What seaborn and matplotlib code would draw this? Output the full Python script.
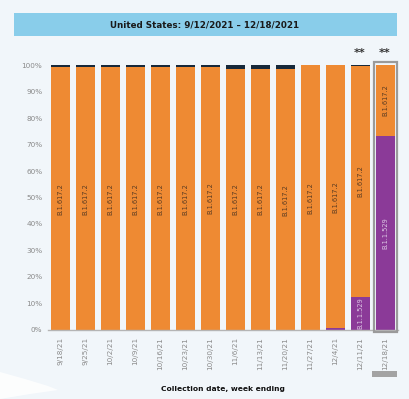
import numpy as np
import pandas as pd
import matplotlib
matplotlib.use('Agg')
import matplotlib.pyplot as plt
import seaborn as sns
from matplotlib.patches import Rectangle, Polygon

# weekly lineage share (%)
weeks = ['9/18/21', '9/25/21', '10/2/21', '10/9/21', '10/16/21', '10/23/21',
         '10/30/21', '11/6/21', '11/13/21', '11/20/21', '11/27/21', '12/4/21',
         '12/11/21', '12/18/21']
omicron = [0, 0, 0, 0, 0, 0, 0, 0, 0, 0, 0, 0.6, 12.6, 73.2]
other = [0.9, 0.8, 0.8, 0.8, 0.8, 0.8, 0.7, 1.4, 1.4, 1.6, 0.1, 0.1, 0.3, 0.0]
delta = [100 - o - x for o, x in zip(omicron, other)]

delta_label = 'B.1.617.2'
omicron_label = 'B.1.1.529'

BG = '#f1f6fa'
ORANGE = '#ee8a33'
PURPLE = '#8b3a98'
NAVY = '#17293a'

df = pd.DataFrame({'week': weeks, 'omicron': omicron, 'delta': delta, 'other': other})
df['d_top'] = df['omicron'] + df['delta']
df['total'] = df['d_top'] + df['other']

sns.set_style('white')
plt.rcParams['font.family'] = ['DejaVu Sans']

fig = plt.figure(figsize=(4.09, 3.99), dpi=100, facecolor=BG)

# decorative swoosh bottom-left
pts = [(0, 372), (25, 379), (48, 386), (58, 390), (30, 394), (0, 399)]
fig.patches.append(Polygon([(x / 409, 1 - y / 399) for x, y in pts], closed=True,
                           transform=fig.transFigure, facecolor='white', edgecolor='none',
                           alpha=0.8, zorder=0))

ax = fig.add_axes([0.117, 0.173, 0.855, 0.664])
ax.set_facecolor(BG)

# stacked bars: draw cumulative totals largest first
for col, c in [('total', NAVY), ('d_top', ORANGE), ('omicron', PURPLE)]:
    sns.barplot(data=df, x='week', y=col, color=c, width=0.76, saturation=1,
                linewidth=0, ax=ax)

for i in range(len(weeks)):
    if delta[i] > 5:
        ax.text(i, omicron[i] + delta[i] / 2, delta_label, rotation=90, ha='center', va='center',
                fontsize=4.8, color='#5a3b22')
    if omicron[i] > 5:
        ax.text(i, omicron[i] / 2, omicron_label, rotation=90, ha='center', va='center',
                fontsize=4.8, color='#dcc6e4')

# highlight last week
n = len(weeks) - 1
ax.add_patch(Rectangle((n - 0.46, -0.8), 0.92, 101.8, fill=False, edgecolor='#9a9a9a',
                       linewidth=1.6, clip_on=False, zorder=5))
for j in (n - 1, n):
    ax.text(j, 104.5, '**', ha='center', va='center', fontsize=8, color='#333333',
            fontweight='bold')

ax.set_ylim(0, 100)
ax.set_xlim(-0.5, len(weeks) - 0.5)
ax.set_yticks(np.arange(0, 101, 10))
ax.set_yticklabels([f'{v}%' for v in range(0, 101, 10)], fontsize=5.2, color='#8a8a8a')
ax.set_xticks(range(len(weeks)))
ax.set_xticklabels(weeks, rotation=90, fontsize=5.2, color='#8a8a8a')
ax.tick_params(axis='y', length=0, pad=4)
ax.tick_params(axis='x', length=0, pad=5)
ax.set_xlabel('Collection date, week ending', fontsize=5.4, fontweight='bold', color='#111111',
              labelpad=12)
ax.set_ylabel('')
sns.despine(ax=ax, left=True, top=True, right=True)
ax.spines['bottom'].set_color('#b5b5b5')
ax.spines['bottom'].set_linewidth(1)

# title banner
fig.patches.append(Rectangle((14 / 409, 1 - 36 / 399), 383 / 409, 23 / 399,
                             transform=fig.transFigure, facecolor='#89cdea', edgecolor='none'))
fig.text(205 / 409, 1 - 25 / 399, 'United States: 9/12/2021 \u2013 12/18/2021', ha='center',
         va='center', fontsize=6.3, fontweight='bold', color='#1a1a1a')

# small scroll handle under the last bar
fig.patches.append(Rectangle((372 / 409, 1 - 377 / 399), 25 / 409, 6 / 399,
                             transform=fig.transFigure, facecolor='#a3a3a3', edgecolor='none'))

fig.savefig('out.png', dpi=100, facecolor=BG)
